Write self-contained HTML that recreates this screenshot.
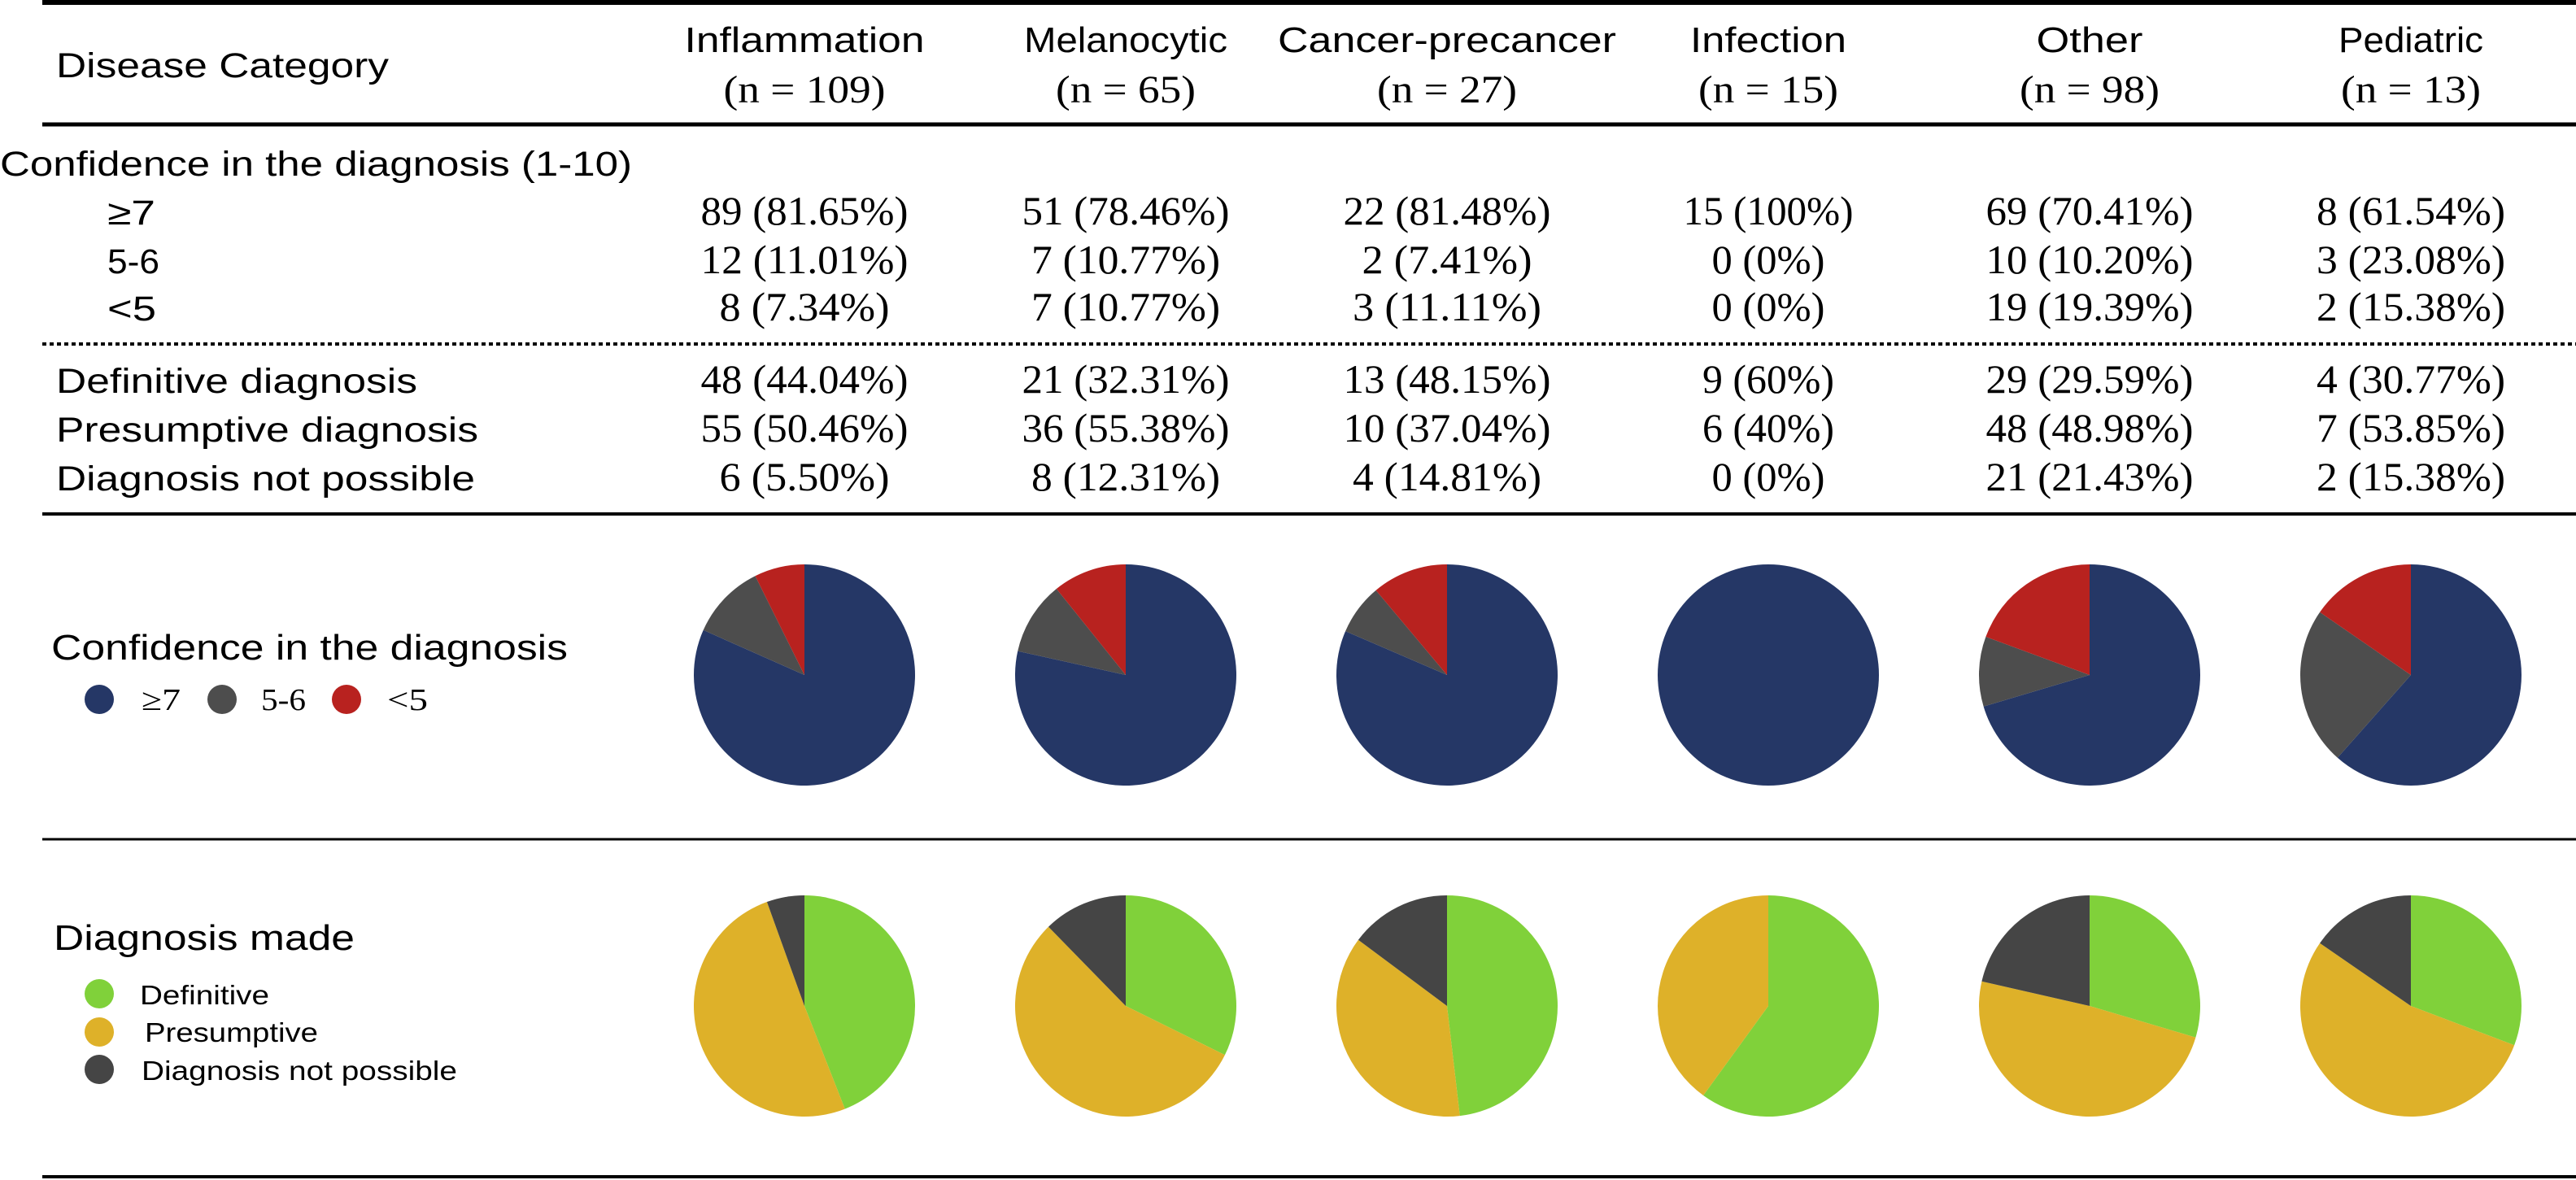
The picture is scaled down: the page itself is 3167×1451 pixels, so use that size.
<!DOCTYPE html>
<html><head><meta charset="utf-8"><style>
html,body{margin:0;padding:0;background:#fff;}
svg{display:block;}
.sans{font-family:"Liberation Sans",sans-serif;fill:#000;}
.serif{font-family:"Liberation Serif",serif;fill:#000;}
</style></head><body>
<svg id="chart" width="3167" height="1451" viewBox="0 0 3167 1451" xmlns="http://www.w3.org/2000/svg">
<g id="static">
<line x1="52" y1="3" x2="3167" y2="3" stroke="#000" stroke-width="6"/>
<line x1="52" y1="153" x2="3167" y2="153" stroke="#000" stroke-width="5"/>
<line x1="52" y1="423" x2="3167" y2="423" stroke="#000" stroke-width="4" stroke-dasharray="5 4"/>
<line x1="52" y1="632" x2="3167" y2="632" stroke="#000" stroke-width="4"/>
<line x1="52" y1="1032" x2="3167" y2="1032" stroke="#000" stroke-width="3"/>
<line x1="52" y1="1447" x2="3167" y2="1447" stroke="#000" stroke-width="4"/>
<text class="sans" x="69" y="95" font-size="43" textLength="409" lengthAdjust="spacingAndGlyphs">Disease Category</text>
<text class="sans" x="0" y="216" font-size="43" textLength="777" lengthAdjust="spacingAndGlyphs">Confidence in the diagnosis (1-10)</text>
<text class="sans" x="132" y="276" font-size="43" textLength="59" lengthAdjust="spacingAndGlyphs">≥7</text>
<text class="sans" x="132" y="336" font-size="43" textLength="64" lengthAdjust="spacingAndGlyphs">5-6</text>
<text class="sans" x="132" y="394" font-size="43" textLength="60" lengthAdjust="spacingAndGlyphs">&lt;5</text>
<text class="sans" x="69" y="483" font-size="43" textLength="444" lengthAdjust="spacingAndGlyphs">Definitive diagnosis</text>
<text class="sans" x="69" y="543" font-size="43" textLength="519" lengthAdjust="spacingAndGlyphs">Presumptive diagnosis</text>
<text class="sans" x="69" y="603" font-size="43" textLength="515" lengthAdjust="spacingAndGlyphs">Diagnosis not possible</text>
<text class="sans" x="63" y="811" font-size="44" textLength="635" lengthAdjust="spacingAndGlyphs">Confidence in the diagnosis</text>
<circle cx="122" cy="860" r="18" fill="#253766"/>
<text class="serif" x="174" y="873" font-size="38" fill="#333" textLength="48" lengthAdjust="spacingAndGlyphs">≥7</text>
<circle cx="273" cy="860" r="18" fill="#4d4d4d"/>
<text class="serif" x="321" y="873" font-size="38" fill="#333" textLength="55" lengthAdjust="spacingAndGlyphs">5-6</text>
<circle cx="426" cy="860" r="18" fill="#b8221f"/>
<text class="serif" x="476" y="873" font-size="38" fill="#333" textLength="50" lengthAdjust="spacingAndGlyphs">&lt;5</text>
<text class="sans" x="66" y="1168" font-size="44" textLength="370" lengthAdjust="spacingAndGlyphs">Diagnosis made</text>
<circle cx="122" cy="1222" r="18" fill="#80d13a"/>
<text class="sans" x="172" y="1235" font-size="33" textLength="159" lengthAdjust="spacingAndGlyphs">Definitive</text>
<circle cx="122" cy="1269" r="18" fill="#deb129"/>
<text class="sans" x="178" y="1281" font-size="33" textLength="213" lengthAdjust="spacingAndGlyphs">Presumptive</text>
<circle cx="122" cy="1315" r="18" fill="#454545"/>
<text class="sans" x="174" y="1328" font-size="33" textLength="388" lengthAdjust="spacingAndGlyphs">Diagnosis not possible</text>
</g>
<g id="dyn"></g>
</svg>
<script>
const categories = ["Inflammation","Melanocytic","Cancer-precancer","Infection","Other","Pediatric"];
const nTotals = [109,65,27,15,98,13];
const confGe7 = [89,51,22,15,69,8];
const conf56 = [12,7,2,0,10,3];
const confLt5 = [8,7,3,0,19,2];
const diagDefinitive = [48,21,13,9,29,4];
const diagPresumptive = [55,36,10,6,48,7];
const diagNotPossible = [6,8,4,0,21,2];
const confPct = [["81.65%","11.01%","7.34%"],["78.46%","10.77%","10.77%"],["81.48%","7.41%","11.11%"],["100%","0%","0%"],["70.41%","10.20%","19.39%"],["61.54%","23.08%","15.38%"]];
const diagPct = [["44.04%","50.46%","5.50%"],["32.31%","55.38%","12.31%"],["48.15%","37.04%","14.81%"],["60%","40%","0%"],["29.59%","48.98%","21.43%"],["30.77%","53.85%","15.38%"]];
const headerWidths = [295,250,416,192,131,178];

const NS = "http://www.w3.org/2000/svg";
const g = document.getElementById("dyn");
function colX(i){ return 989 + i*395; }
function mk(tag, attrs, txt){
  const e = document.createElementNS(NS, tag);
  for (const k in attrs) e.setAttribute(k, attrs[k]);
  if (txt !== undefined) e.textContent = txt;
  g.appendChild(e);
  return e;
}
const confRowsY = [276,336,394];
const diagRowsY = [483,543,603];
const confColors = ["#253766","#4d4d4d","#b8221f"];
const diagColors = ["#80d13a","#deb129","#454545"];

function valText(x, y, s){
  return mk("text",{x:x,y:y,"text-anchor":"middle","class":"serif","font-size":50,textLength:Math.round(s.length*23.2),lengthAdjust:"spacingAndGlyphs"},s);
}

function pie(cx, cy, r, vals, colors, prefix){
  const tot = vals.reduce((a,b)=>a+b,0);
  let a0 = 0;
  vals.forEach((v,k)=>{
    if (v <= 0) return;
    const frac = v/tot;
    let el;
    if (frac >= 0.9999){
      el = mk("circle",{cx:cx,cy:cy,r:r,fill:colors[k]});
    } else {
      const a1 = a0 + frac*2*Math.PI;
      const x0 = cx + r*Math.sin(a0), y0 = cy - r*Math.cos(a0);
      const x1 = cx + r*Math.sin(a1), y1 = cy - r*Math.cos(a1);
      const large = frac > 0.5 ? 1 : 0;
      el = mk("path",{d:`M${cx},${cy} L${x0},${y0} A${r},${r} 0 ${large} 1 ${x1},${y1} Z`,fill:colors[k]});
    }
    
    
    a0 += frac*2*Math.PI;
  });
}

categories.forEach((c,i)=>{
  const x = colX(i);
  let t = mk("text",{x:x,y:64,"text-anchor":"middle","class":"sans","font-size":44,textLength:headerWidths[i],lengthAdjust:"spacingAndGlyphs"},c);
  
  
  const ns = "(n = " + nTotals[i] + ")";
  t = mk("text",{x:x,y:126,"text-anchor":"middle","class":"serif","font-size":48,textLength:(String(nTotals[i]).length>2?199:172),lengthAdjust:"spacingAndGlyphs"},ns);
  
  
  const cv = [confGe7[i],conf56[i],confLt5[i]];
  cv.forEach((v,k)=>{
    const e = valText(x, confRowsY[k], v + " (" + confPct[i][k] + ")");
    
    
  });
  const dv = [diagDefinitive[i],diagPresumptive[i],diagNotPossible[i]];
  dv.forEach((v,k)=>{
    const e = valText(x, diagRowsY[k], v + " (" + diagPct[i][k] + ")");
    
    
  });
  pie(x, 830, 136, cv, confColors, 'confidence-pie-' + i);
  pie(x, 1237, 136, dv, diagColors, 'diagnosis-pie-' + i);
});
</script>
</body></html>
